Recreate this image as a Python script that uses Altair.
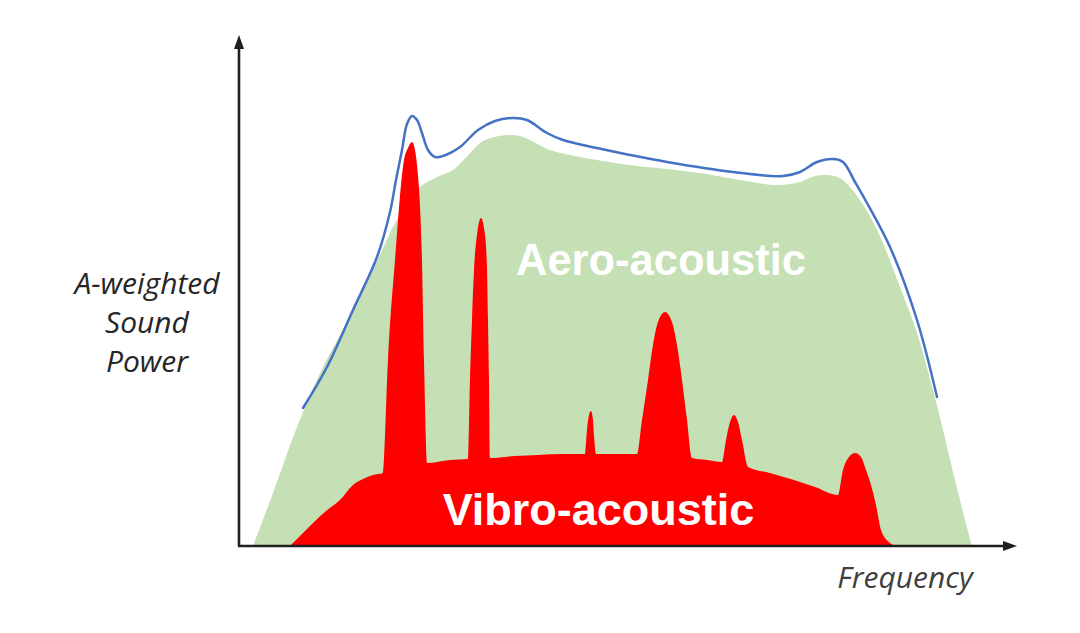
import altair as alt
import pandas as pd

# ---- data (arbitrary units) ----
green_f = [14, 34, 58, 84, 111, 134, 154, 168, 181, 198, 214, 234, 244, 256, 268, 281, 291, 311, 358, 391,
           461, 501, 538, 561, 576, 588, 601, 611, 621, 633, 644, 661, 678, 694, 704, 716, 726, 733]
green_p = [0, 53, 119, 179, 229, 276, 319, 343, 359, 369, 376, 396, 405, 409, 411, 410, 406, 396, 386, 381,
           373, 366, 361, 364, 370, 371, 368, 359, 346, 326, 303, 259, 213, 156, 116, 66, 26, 0]

red_f = [51, 59, 74, 87, 101, 114, 124, 134, 144,
         149, 156, 165, 169, 173, 176, 178, 183, 185, 188,
         211, 229, 231, 233, 235, 238, 242, 246, 248, 249, 250, 251,
         276, 299, 323, 346, 348, 350, 352, 354, 355, 357,
         376, 398, 403, 409, 414, 419, 426, 433, 438, 443, 448, 453,
         468, 483, 487, 491, 495, 499, 503, 509,
         531, 555, 576, 599, 604, 610, 616, 622, 627, 632, 637, 642, 651, 658]
red_p = [0, 8, 23, 35, 46, 61, 67, 71, 73,
         186, 286, 386, 398, 404, 396, 381, 286, 186, 83,
         86, 87, 166, 226, 276, 311, 328, 311, 276, 226, 166, 88,
         90, 91, 92, 92, 116, 131, 135, 126, 111, 92,
         92, 92, 126, 166, 201, 224, 234, 224, 201, 166, 126, 88,
         86, 84, 106, 124, 131, 124, 106, 79,
         73, 66, 59, 51, 76, 89, 93, 89, 76, 61, 41, 16, 3, 0]

blue_f = [64, 88, 114, 138, 151, 157, 163, 168, 173, 178, 183, 189, 196, 204, 221, 239, 256, 274, 288, 308,
          324, 358, 391, 428, 494, 544, 561, 578, 594, 604, 616, 628, 651, 678, 698]
blue_p = [138, 179, 236, 289, 334, 366, 396, 422, 430, 426, 413, 396, 389, 390, 399, 416, 425, 428, 426, 413,
          406, 398, 391, 384, 374, 370, 374, 384, 387, 384, 364, 343, 299, 226, 149]

area_labels = ["Aero-acoustic", "Vibro-acoustic"]
area_label_f = [422, 359.5]
area_label_p = [271, 21]
area_label_size = [43.5, 45]

ylabel_lines = ["A-weighted", "Sound", "Power"]
ylabel_f = [-92, -92, -92]
ylabel_p = [252, 213, 174]

xlabel = ["Frequency"]
xlabel_f = [666]
xlabel_p = [-42]

F_MAX = 778
P_MAX = 511

# ---- chart ----
xs = alt.Scale(domain=[0, F_MAX], nice=False, zero=False)
ys = alt.Scale(domain=[0, P_MAX], nice=False, zero=False)

green_df = pd.DataFrame({"f": green_f, "p": green_p})
red_df = pd.DataFrame({"f": red_f, "p": red_p})
blue_df = pd.DataFrame({"f": blue_f, "p": blue_p})

green = alt.Chart(green_df).mark_area(color="#C5E0B4", interpolate="catmull-rom").encode(
    x=alt.X("f:Q", scale=xs, axis=None),
    y=alt.Y("p:Q", scale=ys, axis=None),
)
red = alt.Chart(red_df).mark_area(color="#FF0000", interpolate="monotone").encode(
    x=alt.X("f:Q", scale=xs, axis=None),
    y=alt.Y("p:Q", scale=ys, axis=None),
)
blue = alt.Chart(blue_df).mark_line(color="#4472C4", strokeWidth=2.5, interpolate="catmull-rom",
                                    strokeCap="round").encode(
    x=alt.X("f:Q", scale=xs, axis=None),
    y=alt.Y("p:Q", scale=ys, axis=None),
)

axis_color = "#1f1f1f"
yaxis_df = pd.DataFrame({"f": [0], "p0": [0], "p1": [P_MAX - 8]})
xaxis_df = pd.DataFrame({"p": [0], "f0": [-1], "f1": [F_MAX - 8]})
yaxis = alt.Chart(yaxis_df).mark_rule(color=axis_color, strokeWidth=2.6).encode(
    x=alt.X("f:Q", scale=xs, axis=None),
    y=alt.Y("p0:Q", scale=ys, axis=None),
    y2="p1:Q",
)
xaxis = alt.Chart(xaxis_df).mark_rule(color=axis_color, strokeWidth=2.6).encode(
    y=alt.Y("p:Q", scale=ys, axis=None),
    x=alt.X("f0:Q", scale=xs, axis=None),
    x2="f1:Q",
)
yarrow = alt.Chart(pd.DataFrame({"f": [0], "p": [P_MAX - 7]})).mark_point(
    shape="M0,-1L-0.72,1L0.72,1Z", size=196, filled=True, color=axis_color, opacity=1
).encode(x=alt.X("f:Q", scale=xs, axis=None), y=alt.Y("p:Q", scale=ys, axis=None))
xarrow = alt.Chart(pd.DataFrame({"f": [F_MAX - 7], "p": [0]})).mark_point(
    shape="M1,0L-1,-0.72L-1,0.72Z", size=196, filled=True, color=axis_color, opacity=1
).encode(x=alt.X("f:Q", scale=xs, axis=None), y=alt.Y("p:Q", scale=ys, axis=None))

lab_df = pd.DataFrame({"t": area_labels, "f": area_label_f, "p": area_label_p, "s": area_label_size})
area_text = alt.Chart(lab_df).mark_text(
    color="white", fontWeight="bold", font="Liberation Sans", align="center", baseline="alphabetic"
).encode(
    x=alt.X("f:Q", scale=xs, axis=None),
    y=alt.Y("p:Q", scale=ys, axis=None),
    text="t:N",
    size=alt.Size("s:Q", scale=None, legend=None),
)

yl_df = pd.DataFrame({"t": ylabel_lines, "f": ylabel_f, "p": ylabel_p})
ylab = alt.Chart(yl_df).mark_text(
    color="#262626", fontStyle="italic", font="Open Sans", fontSize=30, align="center", baseline="alphabetic"
).encode(
    x=alt.X("f:Q", scale=xs, axis=None),
    y=alt.Y("p:Q", scale=ys, axis=None),
    text="t:N",
)
xl_df = pd.DataFrame({"t": xlabel, "f": xlabel_f, "p": xlabel_p})
xlab = alt.Chart(xl_df).mark_text(
    color="#404040", fontStyle="italic", font="Open Sans", fontSize=30, align="center", baseline="alphabetic"
).encode(
    x=alt.X("f:Q", scale=xs, axis=None),
    y=alt.Y("p:Q", scale=ys, axis=None),
    text="t:N",
)

chart = alt.layer(green, red, blue, xaxis, yaxis, yarrow, xarrow, area_text, ylab, xlab).properties(
    width=F_MAX,
    height=P_MAX,
    padding={"left": 231, "top": 27, "right": 55, "bottom": 79},
    autosize=alt.AutoSizeParams(type="none"),
    background="white",
).configure_view(stroke="transparent")

chart.save("out.html", embed_options={"renderer": "svg", "actions": False})
